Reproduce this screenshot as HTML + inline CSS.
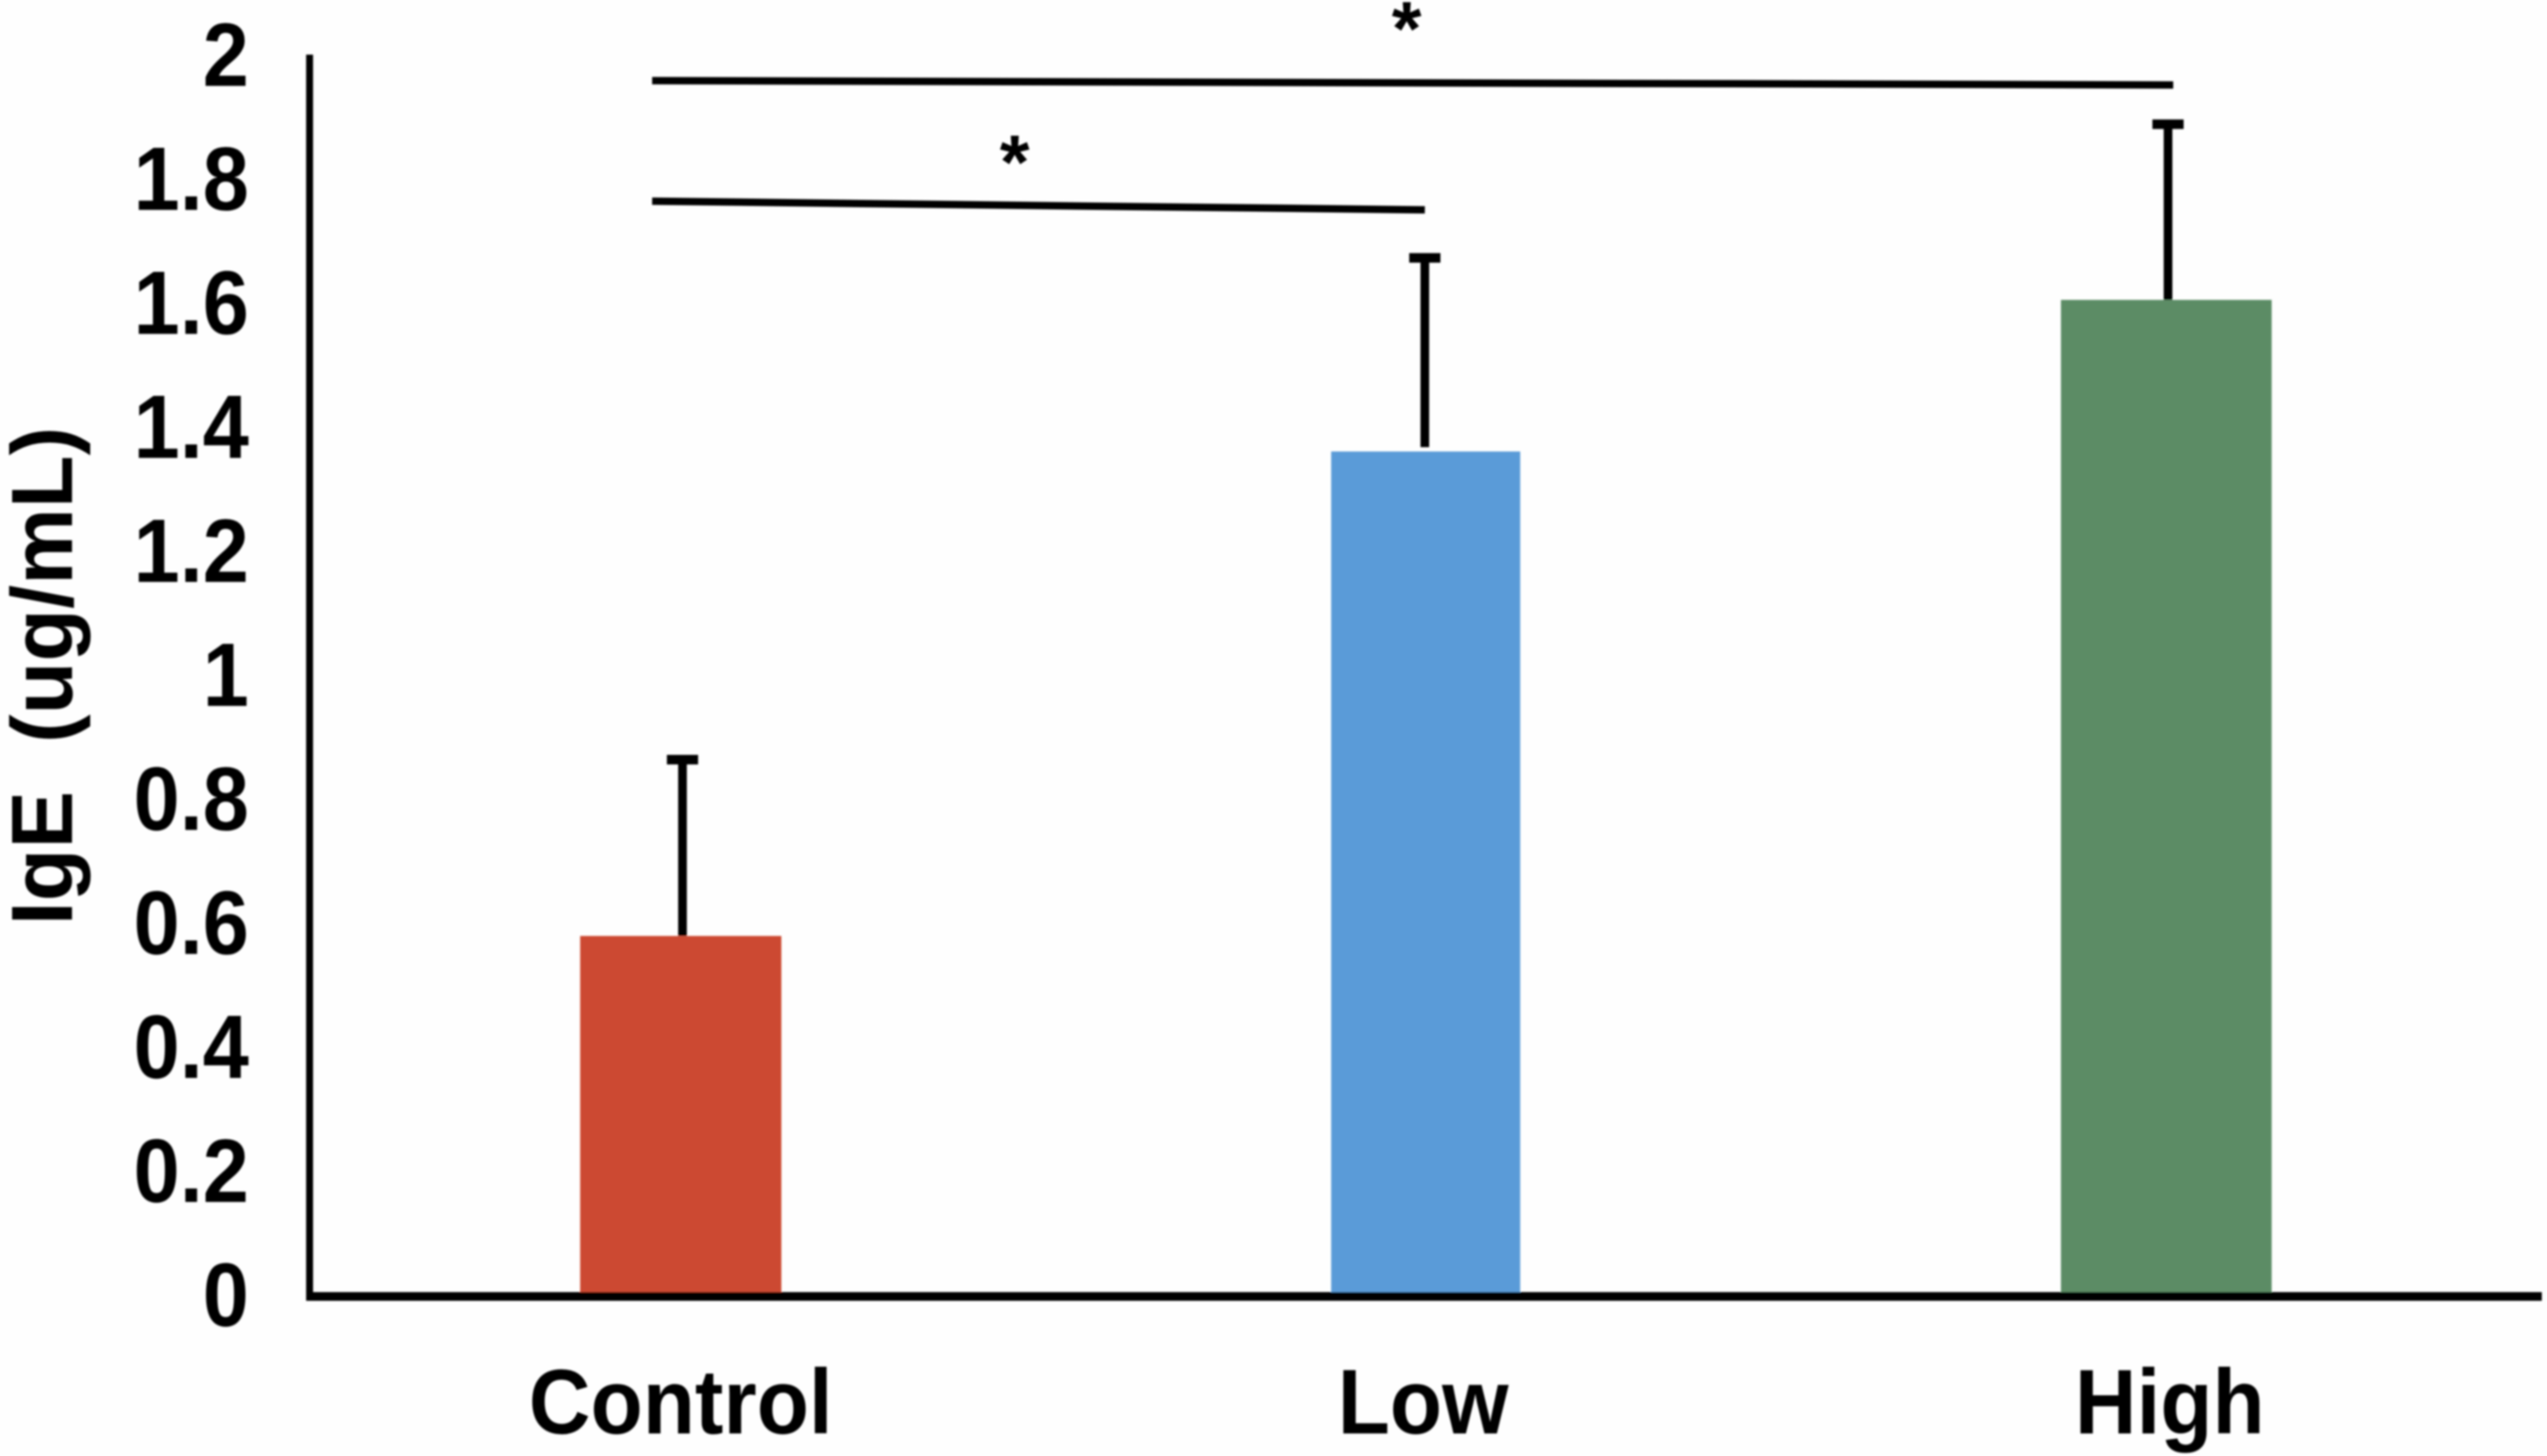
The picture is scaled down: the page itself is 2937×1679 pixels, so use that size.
<!DOCTYPE html>
<html lang="en">
<head>
<meta charset="utf-8">
<title>IgE by group</title>
<style>
html,body{margin:0;padding:0;background:#fefefe;}
svg{display:block;}
text{font-family:"Liberation Sans",Arial,sans-serif;fill:#000;}
.bold{font-weight:700;}
</style>
</head>
<body>
<svg id="chart" xmlns="http://www.w3.org/2000/svg" width="2937" height="1679" viewBox="0 0 2937 1679">
  <defs><filter id="soft" x="-5%" y="-5%" width="110%" height="110%"><feGaussianBlur stdDeviation="1.1"/></filter></defs>
  <rect x="0" y="0" width="2937" height="1679" fill="#fefefe"/>
  <g id="plot" filter="url(#soft)">
    <text class="bold" font-size="100" xml:space="preserve" style="white-space:pre" textLength="575" lengthAdjust="spacingAndGlyphs" transform="translate(83,1067) rotate(-90)">IgE  (ug/mL)</text>
    <g id="bars"></g>
    <g id="errors"></g>
    <g id="yticks"></g>
    <g id="xticks"></g>
    <line x1="357" y1="63" x2="357" y2="1500" stroke="#000" stroke-width="8"/>
    <line x1="353" y1="1495" x2="2931" y2="1495" stroke="#000" stroke-width="10"/>
    <line x1="752" y1="93" x2="2506" y2="98" stroke="#000" stroke-width="8.5"/>
    <line x1="752" y1="232" x2="1643" y2="242" stroke="#000" stroke-width="8.5"/>
    <text class="bold" font-size="88" text-anchor="middle" x="1622" y="63">*</text>
    <text class="bold" font-size="88" text-anchor="middle" x="1170" y="217">*</text>
  </g>
</svg>
<script>
const categories = ["Control", "Low", "High"];
const igeMeans = [0.577, 1.36, 1.605];
const igeErrorTops = [0.862, 1.673, 1.889];
const yTickValues = [0, 0.2, 0.4, 0.6, 0.8, 1, 1.2, 1.4, 1.6, 1.8, 2];
const yTickLabels = ["0", "0.2", "0.4", "0.6", "0.8", "1", "1.2", "1.4", "1.6", "1.8", "2"];

const NS = "http://www.w3.org/2000/svg";
const barLook = {
  Control: { fill: "#cc4a32", width: 232, nudge: 1, errNudge: 3, labelNudge: 1, stemGap: 0 },
  Low: { fill: "#5a9bd8", width: 218, nudge: 3, errNudge: 2, labelNudge: 0, stemGap: 5 },
  High: { fill: "#5b8c65", width: 243, nudge: 0, errNudge: 2, labelNudge: 4, stemGap: 0 }
};
function xScale(i) { return 784 + 857 * i; }
function yScale(v) { return 1491 - 713.5 * v; }
function tickBaseline(v) { return 1529 - 715 * v; }
function make(tag, attrs) {
  const el = document.createElementNS(NS, tag);
  for (const k in attrs) el.setAttribute(k, attrs[k]);
  return el;
}
const barsG = document.getElementById("bars");
const errorsG = document.getElementById("errors");
const yTicksG = document.getElementById("yticks");
const xTicksG = document.getElementById("xticks");

categories.forEach(function (cat, i) {
  const look = barLook[cat];
  const cx = xScale(i) + look.nudge;
  const top = yScale(igeMeans[i]);
  const bar = make("rect", { x: cx - look.width / 2, y: top, width: look.width, height: yScale(0) - top, fill: look.fill });
  
  
  barsG.appendChild(bar);

  const ex = xScale(i) + look.errNudge;
  const eTop = yScale(igeErrorTops[i]);
  const stem = make("line", { x1: ex, x2: ex, y1: eTop, y2: top - look.stemGap, stroke: "#000", "stroke-width": 10 });
  
  
  errorsG.appendChild(stem);

  const cap = make("line", { x1: ex - 18, x2: ex + 18, y1: eTop, y2: eTop, stroke: "#000", "stroke-width": 11 });
  
  
  errorsG.appendChild(cap);

  const label = make("text", { "class": "bold", "font-size": 106, "text-anchor": "middle", transform: "translate(" + (xScale(i) + look.labelNudge) + ",1653) scale(0.93,1)" });
  label.textContent = cat;
  
  
  xTicksG.appendChild(label);
});

yTickValues.forEach(function (v, i) {
  const t = make("text", { "class": "bold", "font-size": 104, "text-anchor": "end", transform: "translate(287," + tickBaseline(v) + ") scale(0.92,1)" });
  t.textContent = yTickLabels[i];
  
  
  yTicksG.appendChild(t);
});
</script>
</body>
</html>
